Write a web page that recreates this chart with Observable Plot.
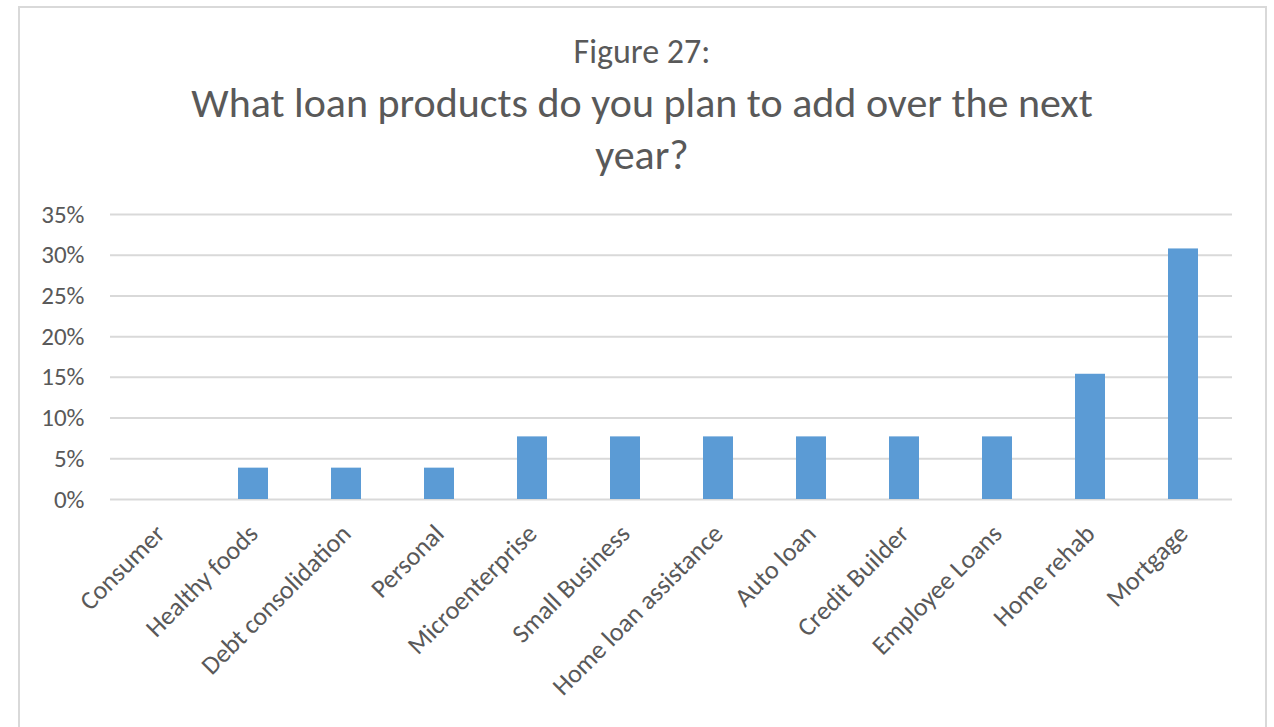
<!DOCTYPE html>
<html>
<head>
<meta charset="utf-8">
<script src="https://cdn.jsdelivr.net/npm/d3@7"></script>
<script src="https://cdn.jsdelivr.net/npm/@observablehq/plot@0.6"></script>
<style>
  html, body { margin: 0; padding: 0; background: #fff; overflow: hidden; width: 1274px; height: 727px; }
  body { font-family: Calibri, Carlito, Lato, sans-serif; color: #595959; }
  #frame { position: absolute; left: 18px; top: 6px; width: 1249px; height: 760px; border: 2px solid #d9d9d9; box-sizing: border-box; }
  .t { position: absolute; left: 0; width: 1284px; text-align: center; white-space: nowrap; color: #595959; }
  #fig { top: 33px; font-size: 34px; line-height: 38px; }
  #title { top: 77px; font-size: 42px; line-height: 52px; }
  #chart { position: absolute; left: 0; top: 190px; }
</style>
</head>
<body>
<div id="frame"></div>
<div class="t" id="fig">Figure 27:</div>
<div class="t" id="title">What loan products do you plan to add over the next<br>year?</div>
<div id="chart"></div>
<script>
const categories = ["Consumer", "Healthy foods", "Debt consolidation", "Personal", "Microenterprise", "Small Business", "Home loan assistance", "Auto loan", "Credit Builder", "Employee Loans", "Home rehab", "Mortgage"];
const values = [0, 0.0385, 0.0385, 0.0385, 0.0769, 0.0769, 0.0769, 0.0769, 0.0769, 0.0769, 0.1538, 0.3077];
const yTicks = [0, 0.05, 0.10, 0.15, 0.20, 0.25, 0.30, 0.35];

const data = categories.map((c, i) => ({category: c, value: values[i]}));

const chart = Plot.plot({
  width: 1274,
  height: 537,
  marginLeft: 110,
  marginRight: 42,
  marginTop: 24,
  marginBottom: 228,
  style: {fontFamily: "Calibri, Carlito, Lato, sans-serif", fontSize: "25px", color: "#595959", background: "transparent"},
  x: {domain: categories, paddingInner: 0.68, paddingOuter: 0.34, label: null, tickSize: 0, tickPadding: 30, tickRotate: -45},
  y: {domain: [0, 0.35], ticks: yTicks, tickFormat: d3.format(".0%"), label: null, tickSize: 0, tickPadding: 26},
  marks: [
    Plot.ruleY(yTicks, {stroke: "#d9d9d9", strokeWidth: 2}),
    Plot.barY(data, {x: "category", y: "value", fill: "#5b9bd5"})
  ]
});
chart.querySelectorAll("text").forEach(t => t.setAttribute("fill", "#595959"));
chart.querySelectorAll("[aria-label='x-axis tick label'] text").forEach(t => t.style.fontSize = "26px");
document.getElementById("chart").appendChild(chart);
</script>
</body>
</html>
